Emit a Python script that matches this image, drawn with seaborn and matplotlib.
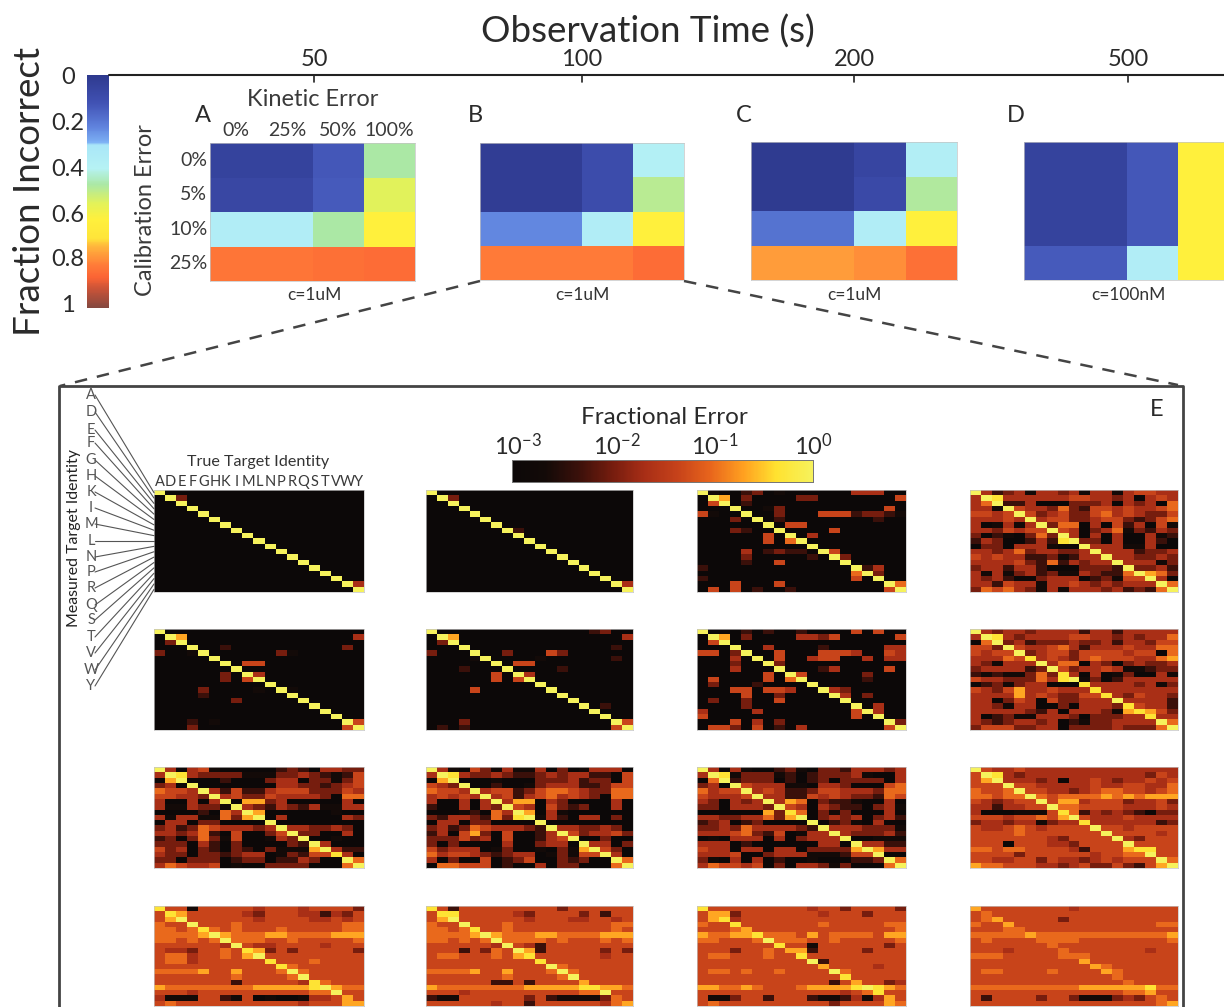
import matplotlib
matplotlib.use("Agg")
import matplotlib.pyplot as plt
import numpy as np
import seaborn as sns
from matplotlib.colors import LinearSegmentedColormap

W, H = 1224, 1007

sns.set_theme(style="white")
plt.rcParams["font.family"] = ["Lato", "DejaVu Sans"]
plt.rcParams["mathtext.fontset"] = "custom"
plt.rcParams["mathtext.rm"] = "Lato"
plt.rcParams["axes.unicode_minus"] = False

text_col = "#2a2a2a"

# top row: fraction incorrect, rows = calibration error, cols = kinetic error
kinetic = ["0%", "25%", "50%", "100%"]
calib = ["0%", "5%", "10%", "25%"]
frac_a = [[.05, .05, .13, .47], [.07, .07, .14, .55], [.36, .36, .47, .62], [.83, .83, .84, .85]]
frac_b = [[.02, .02, .09, .38], [.02, .02, .09, .49], [.23, .23, .36, .62], [.82, .82, .82, .85]]
frac_c = [[.01, .01, .06, .37], [.01, .01, .08, .48], [.19, .19, .36, .62], [.77, .77, .79, .84]]
frac_d = [[.05, .05, .13, .62], [.05, .05, .13, .62], [.05, .05, .13, .62], [.14, .14, .36, .62]]
top_titles = ["c=1uM", "c=1uM", "c=1uM", "c=100nM"]
top_letters = ["A", "B", "C", "D"]
time_labels = ["50", "100", "200", "500"]
cbar_labels = ["0", "0.2", "0.4", "0.6", "0.8", "1"]

letters = list("ADEFGHKIMLNPRQSTVWY")

# confusion panels, one digit per cell: 0 = 10^-3 ... 9 = 10^0, thirds of a decade
p11 = ["90000 00000 00000 0000", "09300 00000 00000 0000", "00900 00000 00000 0000", "00090 00000 00000 0000",
       "00009 00000 00000 0000", "00000 90000 00000 0000", "00000 09000 00000 0000", "00000 00900 00000 0000",
       "00000 00090 00000 0000", "00000 00009 00000 0000", "00000 00000 90000 0000", "00000 00000 09000 0000",
       "00000 00000 00900 0000", "00000 00000 00090 0000", "00000 00000 00009 0000", "00000 00000 00000 9000",
       "00000 00000 00000 0900", "00000 00000 00000 0094", "00000 00000 00000 0009"]
p12 = ["90000 00000 00000 0000", "09300 00000 00000 0000", "00900 00000 00000 0000", "00090 00000 00000 0000",
       "00009 00000 00000 0000", "00000 90000 00000 0000", "00000 09000 00000 0000", "00000 00920 00000 0000",
       "00000 00090 00000 0000", "00000 00009 00000 0000", "00000 00000 90000 0000", "00000 00000 09000 0000",
       "00000 00000 00900 0000", "00000 00000 00090 0000", "00000 00000 00009 0000", "00000 00000 00000 9000",
       "00000 00000 00000 0900", "00000 00000 00000 0094", "00000 00000 00000 0009"]
p13 = ["91002 30100 00004 4400", "09703 00003 30000 0005", "05902 00000 00000 0000", "00090 01300 00000 0050",
       "51009 00300 05552 3321", "00030 90200 00000 0200", "00000 09055 00000 0000", "00032 00900 00500 0000",
       "00000 05090 40000 0000", "00000 05069 00000 0000", "00000 00000 90000 0000", "00004 02322 09500 0000",
       "00003 00000 20930 0000", "00002 00500 00090 0000", "20000 00000 00009 2400", "00000 00000 00006 9300",
       "20000 00000 00005 0900", "00050 00500 00000 0096", "05050 20020 00000 0059"]
p14 = ["94234 14434 14414 5544", "49844 44445 54434 0454", "46922 40003 33404 3406", "44195 44363 25545 4456",
       "55459 53453 35645 4335", "44454 94553 34553 2356", "40141 49366 04052 4051", "44354 55954 03461 3243",
       "30210 36394 04040 0412", "24300 24289 33040 0420", "03304 44100 94441 1400", "44346 34433 49444 2334",
       "54544 22312 44944 3343", "44445 32624 34494 4413", "34424 42000 33329 3342", "41413 42311 43226 9763",
       "43420 03444 02315 5940", "44254 41445 43434 4496", "36564 31414 44342 3269"]
p21 = ["90000 00000 00000 0000", "09700 00000 00000 0004", "03900 00000 00000 0000", "00090 02000 00000 0030",
       "30019 00000 03100 0000", "00000 90000 00000 0000", "00000 09055 00000 0000", "00000 00900 00000 0000",
       "00000 03094 00000 0000", "00000 03059 00000 0000", "00000 00000 90000 0000", "00003 00001 09100 0000",
       "00002 00000 00900 0000", "00000 00300 00090 0000", "00000 00000 00009 0000", "00000 00000 00000 9000",
       "00000 00000 00000 0900", "00020 10000 00000 0095", "00030 00000 00000 0059"]
p22 = ["90000 00000 00000 2300", "09700 00000 00000 0004", "03900 00000 00000 0000", "00090 00000 00000 0020",
       "30009 00300 05300 0000", "00001 90000 10000 0020", "00000 09055 00000 0000", "00020 00900 00200 0000",
       "00000 05094 00000 0000", "00000 05059 00000 0000", "00000 00000 90000 0000", "00005 00000 09000 0000",
       "00000 00000 00900 0000", "00000 00000 00090 0000", "00000 00000 00009 0200", "00000 00000 00000 9000",
       "00000 00000 00000 0900", "00030 00000 00000 0095", "02020 00000 00000 0059"]
p23 = ["90002 02002 00005 0500", "09703 00004 43500 0005", "05900 00000 00000 0000", "00090 04000 02000 0044",
       "55039 00500 05554 0054", "00040 90500 45500 4044", "00030 09300 00000 0000", "00040 00900 02400 0050",
       "00000 05095 00000 3000", "05000 05069 00000 2000", "03000 20000 90000 0000", "00055 05540 09430 0000",
       "00005 00300 00940 3000", "03003 00500 00090 0000", "00003 00000 00009 0400", "40000 40000 00005 9400",
       "50000 00000 00005 0900", "00050 40300 00000 0093", "05530 50204 00000 0059"]
p24 = ["94344 34444 24424 4444", "49843 44445 54434 3446", "06934 23334 33424 4355", "55395 44564 24445 4466",
       "54559 34553 55554 5506", "44465 84543 56555 4467", "43144 49466 04303 4334", "34444 23953 44541 1233",
       "21211 36384 04013 0041", "54433 36489 13024 4444", "02313 44000 84444 3413", "54357 44544 48444 4444",
       "44447 45433 55843 5443", "44035 40533 44494 4442", "44314 40030 44438 5442", "44444 32404 44317 8753",
       "40231 14443 03334 4844", "43234 43402 13344 4496", "35553 34403 33343 3369"]
p31 = ["94045 10000 02320 4433", "49843 33311 13343 2125", "07900 02000 34403 3135", "34090 00000 04433 2345",
       "65549 42522 45553 3354", "55443 94533 54444 3066", "40040 49077 34000 0040", "41143 31943 24324 1144",
       "00002 06497 00000 0100", "41441 16379 04000 0043", "04403 30000 90000 0000", "34236 54443 49443 3430",
       "44346 20500 35933 0040", "23036 31500 14390 0100", "33304 20300 00329 4000", "53403 20320 31117 9422",
       "43303 32344 01325 5840", "33033 30233 02243 0096", "46544 50100 33330 0069"]
p32 = ["94105 31411 40301 4440", "49843 34322 34344 2205", "07900 01000 33342 3305", "54390 02001 34442 2355",
       "65549 45523 56654 3366", "45454 94524 56454 3066", "40040 49477 04300 0040", "20040 43954 05323 0040",
       "00012 06497 04100 0000", "32443 26389 14204 4030", "04403 30000 90000 0000", "34236 54443 29443 3430",
       "24057 30500 24953 4453", "33353 40500 24590 0300", "30300 00400 34409 4403", "53444 01300 10317 9530",
       "64554 32344 01315 5940", "40300 50235 00323 0096", "06655 50200 40330 0069"]
p33 = ["94041 00231 03324 4434", "49813 33120 23334 1004", "06923 33020 23033 3304", "34095 44411 04430 0056",
       "64559 45422 35544 4366", "54445 94422 54543 3265", "43043 49476 03221 0040", "33044 43954 04322 0341",
       "00000 07386 03130 0040", "44334 46379 03434 0342", "23402 30000 90231 0400", "33436 44443 29444 3331",
       "44456 32501 44943 3342", "01044 40403 44490 0111", "44402 00000 04409 4422", "54404 40440 33337 9744",
       "44450 03444 11125 5900", "31040 40200 10002 2396", "46554 50304 43130 0069"]
p34 = ["95445 44444 44444 4444", "59843 44444 44444 4354", "57944 43404 45434 4545", "55595 54444 45445 5446",
       "65569 55443 45665 5456", "66566 96566 66767 6777", "54345 59577 45553 4453", "44244 55966 55554 4454",
       "40001 11586 24343 2033", "55545 56579 54445 4444", "34434 41344 84444 4423", "54456 54555 59554 5555",
       "55556 55555 55955 5545", "55555 55435 55594 3555", "55505 55443 55559 5555", "66566 55554 25557 8855",
       "55553 55555 54556 6955", "55445 53544 34545 5596", "76655 54434 53353 2579"]
p41 = ["85515 55554 55545 5553", "58755 55543 55544 2435", "57955 55554 55554 4545", "65595 55655 55555 5566",
       "66568 65655 56555 5566", "66667 97666 77666 6777", "66565 69666 55655 5556", "55555 54954 45555 4555",
       "54435 56587 35355 5553", "56645 56579 55555 5555", "56645 55555 85556 5555", "55555 55555 58655 5555",
       "66667 55755 56965 5555", "55555 55655 55695 5555", "55555 55255 55548 6555", "76666 66667 77778 9766",
       "55545 55555 55556 6955", "41115 52150 10014 4575", "56555 55555 55545 5577"]
p42 = ["85255 55555 55355 5555", "58855 55543 55553 5255", "57955 55554 55544 5545", "65595 55655 55555 5566",
       "66568 55655 55555 5565", "66667 97666 77666 6777", "66565 69666 65655 5656", "55555 54954 25555 5555",
       "55525 36597 25555 5353", "56655 56578 55555 5455", "55555 55555 85555 5555", "55555 55555 59655 5555",
       "66667 55755 56965 5555", "55555 55655 55695 5555", "55555 52252 55557 5555", "76666 66667 77778 8776",
       "55545 55555 55556 6955", "21155 55553 52111 1365", "55555 54552 55555 5467"]
p43 = ["85555 55555 45535 5553", "57735 55555 54555 3555", "57845 55555 55555 5555", "65585 55555 56555 5566",
       "55567 55555 55555 5556", "76677 86665 75666 6577", "66555 69666 55655 5556", "55555 55855 15555 5535",
       "55535 56577 25555 3555", "56655 56558 55555 5555", "55555 55555 92555 5555", "55555 55555 57555 5455",
       "56656 55655 55965 5555", "55555 55555 55585 5555", "55555 55555 55257 5534", "77667 65556 77778 9876",
       "55555 55555 55545 6855", "51135 52555 21124 1475", "56555 55555 55355 5576"]
p44 = ["75555 55554 55555 5555", "56555 55555 55555 5555", "56755 55535 55555 5555", "65575 55555 55555 5566",
       "55566 55555 55555 5555", "66666 76666 66666 6667", "56555 56666 55555 5556", "55555 55655 55555 5555",
       "55545 55565 55555 5455", "66655 55566 65555 5555", "55555 55555 75555 5555", "55555 55555 57655 5555",
       "56655 55655 55765 5555", "55555 55555 55565 5555", "55555 55555 55556 5555", "66666 66666 77777 7866",
       "55555 55555 55556 6755", "52555 53553 11134 3565", "55555 55555 55555 5567"]
conf_panels = [p11, p12, p13, p14, p21, p22, p23, p24, p31, p32, p33, p34, p41, p42, p43, p44]

frac_cmap = LinearSegmentedColormap.from_list("frac", [
    (0, "#2e398e"), (.12, "#4152b4"), (.22, "#5f82dd"), (.29, "#7eb2f5"), (.3, "#a9e6f8"), (.4, "#b6f2f4"),
    (.47, "#abe8a6"), (.55, "#e2f25a"), (.62, "#fff03c"), (.7, "#ffe53a"), (.74, "#ffb33c"), (.82, "#ff7a38"),
    (.87, "#fb6434"), (.92, "#c95338"), (1, "#85483f")])
hot_cmap = LinearSegmentedColormap.from_list("hot2", [
    (0, "#0c0808"), (.11, "#130a08"), (.22, "#3a100a"), (.33, "#741c0e"), (.44, "#a82e16"), (.55, "#c6421a"),
    (.66, "#e8651c"), (.77, "#ffa020"), (.88, "#ffe230"), (1, "#f6f25c")])


def px_ax(fig, x0, y0, x1, y1):
    return fig.add_axes([x0 / W, 1 - y1 / H, (x1 - x0) / W, (y1 - y0) / H])


def edge(ax, col="#c4c4c4"):
    for s in ax.spines.values():
        s.set_visible(True)
        s.set_color(col)
        s.set_linewidth(0.5)


fig = plt.figure(figsize=(W / 100, H / 100), dpi=100)

# top heatmaps
top_boxes = [(210, 143, 415, 281), (480, 143, 684, 280), (751, 142, 957, 280), (1024, 142, 1229, 280)]
cax = px_ax(fig, 87, 75, 109, 308)
for i, (box, vals) in enumerate(zip(top_boxes, [frac_a, frac_b, frac_c, frac_d])):
    ax = px_ax(fig, *box)
    sns.heatmap(vals, ax=ax, cmap=frac_cmap, vmin=0, vmax=1, cbar=i == 0, cbar_ax=cax if i == 0 else None,
                xticklabels=kinetic if i == 0 else False, yticklabels=calib if i == 0 else False)
    edge(ax)
    if i == 0:
        ax.xaxis.tick_top()
        ax.tick_params(length=0, pad=3, labelsize=14, labelcolor="#3a3a3a")
        ax.tick_params(axis="x", labelrotation=0)
        ax.tick_params(axis="y", labelrotation=0, pad=2)
cax.invert_yaxis()
cax.tick_params(length=0, labelleft=False, labelright=False)

# confusion grids
col_px = [(154, 364), (426, 633), (697, 906), (970, 1178)]
row_px = [(490, 592), (629, 730), (767, 868), (906, 1006)]
hot_cax = px_ax(fig, 512, 460, 813, 482)
n = 0
for ry in row_px:
    for cx in col_px:
        ax = px_ax(fig, cx[0], ry[0], cx[1], ry[1])
        levels = [[int(ch) for ch in row.replace(" ", "")] for row in conf_panels[n]]
        sns.heatmap(levels, ax=ax, cmap=hot_cmap, vmin=0, vmax=9, cbar=n == 0,
                    cbar_ax=hot_cax if n == 0 else None,
                    cbar_kws={"orientation": "horizontal"} if n == 0 else None,
                    xticklabels=letters if n == 0 else False, yticklabels=False)
        edge(ax)
        if n == 0:
            ax.xaxis.tick_top()
            ax.tick_params(axis="x", length=0, pad=1, labelsize=10.5, labelrotation=0, labelcolor="#3a3a3a")
        n += 1
hot_cax.set_xticks([4.5, 6, 7.5])
hot_cax.tick_params(axis="x", direction="in", length=11, width=0.8, color="#555555", labelbottom=False, bottom=True)
for s in hot_cax.spines.values():
    s.set_visible(True)
    s.set_color("#777777")
    s.set_linewidth(0.7)

# overlay in pixel coords for labels, frame and connectors
ov = fig.add_axes([0, 0, 1, 1], zorder=10)
ov.set_xlim(0, W)
ov.set_ylim(H, 0)
ov.axis("off")
ov.patch.set_alpha(0)

ov.text(648, 32, "Observation Time (s)", fontsize=26.5, ha="center", va="center", color=text_col)
ov.text(30, 191, "Fraction Incorrect", fontsize=26.5, rotation=90, ha="center", va="center", color=text_col)
ov.text(146, 210, "Calibration Error", fontsize=17, rotation=90, ha="center", va="center", color="#3a3a3a")
ov.text(313, 100, "Kinetic Error", fontsize=17, ha="center", va="center", color="#3a3a3a")

ov.plot([109, W], [75, 75], color="#222222", lw=1.5)
for label, x, title in zip(time_labels, [314, 582, 854, 1128], top_titles):
    ov.plot([x, x], [75, 82], color="#222222", lw=1.2)
    ov.text(x, 60, label, fontsize=17, ha="center", va="center", color=text_col)
    ov.text(x, 295, title, fontsize=12.5, ha="center", va="center", color="#333333")
for label, x in zip(top_letters, [203, 475, 744, 1016]):
    ov.text(x, 115, label, fontsize=17, ha="center", va="center", color=text_col)
for label, y in zip(cbar_labels, [78, 124, 169, 215, 260, 305]):
    ov.text(68, y, label, fontsize=17, ha="center", va="center", color=text_col)

# dashed zoom lines and box E
ov.plot([480, 60], [281, 386], color="#444444", lw=1.8, ls=(0, (5, 4)))
ov.plot([684, 1178], [281, 385], color="#444444", lw=1.8, ls=(0, (5, 4)))
ov.plot([59, 59, 1183, 1183], [H, 386, 386, H], color="#444444", lw=2)
ov.text(1157, 409, "E", fontsize=17, ha="center", va="center", color=text_col)

# fractional error colorbar labels
ov.text(664, 418, "Fractional Error", fontsize=17.5, ha="center", va="center", color=text_col)
for label, x in zip([r"10^{-3}", r"10^{-2}", r"10^{-1}", r"10^{0}"], [518, 617, 715, 813]):
    ov.text(x, 446, "$\\mathregular{" + label + "}$", fontsize=17, ha="center", va="center", color=text_col)

# measured identity labels fanning into the first panel
label_y = [395, 412, 430, 443, 460, 476, 492, 508, 524, 541, 557, 572, 588, 605, 620, 637, 653, 670, 686]
ov.text(258, 462, "True Target Identity", fontsize=11.6, ha="center", va="center", color="#333333")
ov.text(74, 538, "Measured Target Identity", fontsize=11.4, rotation=90, ha="center", va="center", color="#222222")
for i, (label, y) in enumerate(zip(letters, label_y)):
    ov.text(91, y, label, fontsize=10.5, ha="center", va="center", color="#555555")
    ov.plot([95, 154], [y, 490 + (i + 0.5) * 102 / 19], color="#555555", lw=0.8)

fig.savefig("out.png", dpi=100)
